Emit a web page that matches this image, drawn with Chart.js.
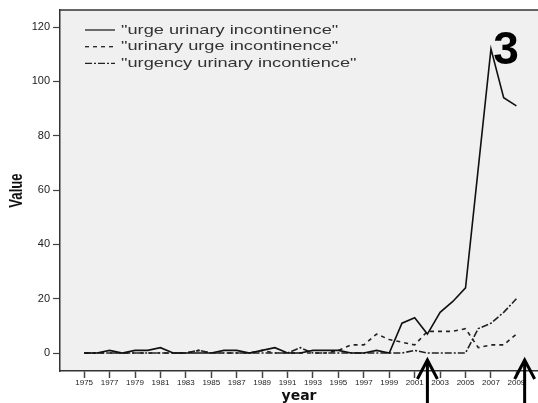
<!DOCTYPE html>
<html>
<head>
<meta charset="utf-8">
<script src="https://cdn.jsdelivr.net/npm/chart.js@4.4.0/dist/chart.umd.min.js"></script>
<style>
  html, body { margin: 0; padding: 0; background: #fff; }
  #wrap { width: 538px; height: 403px; position: relative; }
</style>
</head>
<body>
<div id="wrap"><canvas id="chart"></canvas></div>
<script>
// роки
const years = [1975, 1976, 1977, 1978, 1979, 1980, 1981, 1982, 1983, 1984,
  1985, 1986, 1987, 1988, 1989, 1990, 1991, 1992, 1993, 1994,
  1995, 1996, 1997, 1998, 1999, 2000, 2001, 2002, 2003, 2004,
  2005, 2006, 2007, 2008, 2009];

// значення серій
const urgeUrinary = [0, 0, 1, 0, 1, 1, 2, 0, 0, 0,
  0, 1, 1, 0, 1, 2, 0, 0, 1, 1,
  1, 0, 0, 1, 0, 11, 13, 7, 15, 19,
  24, 68, 112, 94, 91];
const urinaryUrge = [0, 0, 0, 0, 0, 0, 0, 0, 0, 1,
  0, 0, 0, 0, 1, 0, 0, 0, 0, 0,
  1, 3, 3, 7, 5, 4, 3, 8, 8, 8,
  9, 2, 3, 3, 7];
const urgencyUrinary = [0, 0, 0, 0, 0, 0, 0, 0, 0, 1,
  0, 0, 0, 0, 0, 0, 0, 2, 0, 0,
  0, 0, 0, 0, 0, 0, 1, 0, 0, 0,
  0, 9, 11, 15, 20];

const seriesLabels = ['"urge urinary incontinence"', '"urinary urge incontinence"', '"urgency urinary incontience"'];
const xTickYears = [1975, 1977, 1979, 1981, 1983, 1985, 1987, 1989, 1991, 1993,
  1995, 1997, 1999, 2001, 2003, 2005, 2007, 2009];
const yTicks = [0, 20, 40, 60, 80, 100, 120];
const yTitle = 'Value';
const arrowYears = [2002, 2009.65];
const panelNumber = '3';

const toPoints = vals => vals.map((v, i) => ({ x: years[i], y: v }));

// фон області графіка, верхня рамка, легенда, стрілки
const decorPlugin = {
  id: 'decor',
  beforeDraw(chart) {
    const { ctx, chartArea: a } = chart;
    ctx.save();
    ctx.fillStyle = '#f0f0f0';
    ctx.fillRect(a.left, a.top, a.right - a.left, a.bottom - a.top);
    ctx.strokeStyle = '#333';
    ctx.lineWidth = 1.5;
    ctx.beginPath();
    ctx.moveTo(a.left, a.top);
    ctx.lineTo(a.right, a.top);
    ctx.stroke();
    ctx.restore();
  },
  afterDraw(chart) {
    const { ctx, chartArea: a } = chart;
    const xs = chart.scales.x;
    ctx.save();
    // легенда (текст розтягнутий по горизонталі, як в оригіналі)
    ctx.font = '13px "Liberation Sans", Arial, sans-serif';
    ctx.textBaseline = 'middle';
    chart.data.datasets.forEach((ds, i) => {
      const y = a.top + 20 + i * 16.7;
      ctx.strokeStyle = '#222';
      ctx.lineWidth = 1.3;
      ctx.setLineDash(ds.borderDash || []);
      ctx.beginPath();
      ctx.moveTo(a.left + 25, y);
      ctx.lineTo(a.left + 55, y);
      ctx.stroke();
      ctx.setLineDash([]);
      ctx.fillStyle = '#333';
      ctx.save();
      ctx.translate(a.left + 61, y);
      ctx.scale(1.4, 1);
      ctx.fillText(ds.label, 0, 0);
      ctx.restore();
    });
    // підпис осі Y (вузький жирний шрифт)
    ctx.save();
    ctx.font = 'bold 18px "Liberation Sans", Arial, sans-serif';
    ctx.fillStyle = '#111';
    ctx.textAlign = 'center';
    ctx.textBaseline = 'middle';
    ctx.translate(16, (a.top + a.bottom) / 2);
    ctx.rotate(-Math.PI / 2);
    ctx.scale(0.73, 1);
    ctx.fillText(yTitle, 0, 1);
    ctx.restore();
    // номер панелі
    ctx.font = 'bold 46px "Liberation Sans", Arial, sans-serif';
    ctx.fillStyle = '#000';
    ctx.textBaseline = 'alphabetic';
    ctx.textAlign = 'center';
    ctx.fillText(panelNumber, a.right - 32, a.top + 54);
    // стрілки
    ctx.strokeStyle = '#000';
    ctx.lineWidth = 3;
    arrowYears.forEach(yr => {
      const x = xs.getPixelForValue(yr);
      const top = a.bottom - 11;
      ctx.beginPath();
      ctx.moveTo(x, chart.height);
      ctx.lineTo(x, top);
      ctx.moveTo(x - 10, top + 19);
      ctx.lineTo(x, top);
      ctx.lineTo(x + 10, top + 19);
      ctx.stroke();
    });
    ctx.restore();
  }
};

new Chart(document.getElementById('chart'), {
  type: 'line',
  data: {
    datasets: [
      {
        label: seriesLabels[0],
        data: toPoints(urgeUrinary),
        borderColor: '#111',
        borderWidth: 1.6,
        borderDash: []
      },
      {
        label: seriesLabels[1],
        data: toPoints(urinaryUrge),
        borderColor: '#222',
        borderWidth: 1.6,
        borderDash: [4, 4]
      },
      {
        label: seriesLabels[2],
        data: toPoints(urgencyUrinary),
        borderColor: '#222',
        borderWidth: 1.6,
        borderDash: [7, 2, 2, 2]
      }
    ]
  },
  options: {
    responsive: true,
    maintainAspectRatio: false,
    animation: false,
    layout: { padding: { top: 10, right: 0, bottom: 0, left: 0 } },
    elements: {
      point: { radius: 0 },
      line: { tension: 0 }
    },
    plugins: {
      legend: { display: false },
      tooltip: { enabled: false }
    },
    scales: {
      x: {
        type: 'linear',
        min: 1973.1,
        max: 2010.7,
        afterFit: s => { s.height = 32; },
        afterBuildTicks: s => { s.ticks = xTickYears.map(v => ({ value: v })); },
        ticks: {
          autoSkip: false,
          maxRotation: 0,
          minRotation: 0,
          padding: 0,
          color: '#222',
          font: { family: '"Liberation Sans", Arial, sans-serif', size: 8 },
          callback: v => String(v)
        },
        grid: {
          drawOnChartArea: false,
          drawTicks: true,
          tickLength: 7,
          tickWidth: 1.5,
          tickColor: '#444'
        },
        border: { display: true, color: '#333', width: 1.5 },
        title: {
          display: true,
          text: 'year',
          color: '#111',
          padding: { top: 0, bottom: -2 },
          font: { family: '"DejaVu Sans", Verdana, sans-serif', size: 14, weight: 'bold' }
        }
      },
      y: {
        min: -6.6,
        max: 126.3,
        afterFit: s => { s.width = 60; },
        afterBuildTicks: s => { s.ticks = yTicks.map(v => ({ value: v })); },
        ticks: {
          padding: 3,
          color: '#222',
          font: { family: '"Liberation Sans", Arial, sans-serif', size: 11 }
        },
        grid: {
          drawOnChartArea: false,
          drawTicks: true,
          tickLength: 7,
          tickWidth: 1.2,
          tickColor: '#444'
        },
        border: { display: true, color: '#333', width: 1.5 },
        title: { display: false }
      }
    }
  },
  plugins: [decorPlugin]
});
</script>
</body>
</html>
